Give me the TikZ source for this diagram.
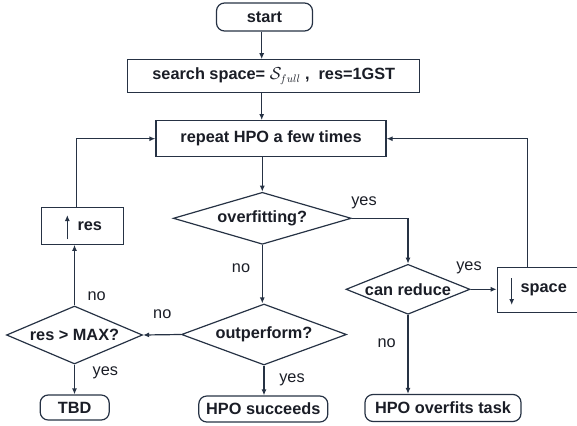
\documentclass[tikz,border=0pt]{standalone}
\usepackage{fontspec}
\setmainfont{Liberation Sans}
\usetikzlibrary{shapes.geometric,arrows.meta,calc}
\definecolor{ln}{HTML}{263244}
\definecolor{tx}{HTML}{1A1D26}
\begin{document}
\begin{tikzpicture}[x=1pt,y=-1pt,
  every node/.style={font=\fontsize{16.3}{19}\selectfont, text=tx},
  base/.style={draw=ln, line width=1.2pt, inner sep=0pt, font=\fontsize{16.3}{19}\selectfont\bfseries},
  box/.style={base, rectangle},
  term/.style={base, rectangle, rounded corners=8pt},
  dec/.style={base, diamond},
  lbl/.style={inner sep=0pt},
  conn/.style={draw=ln, line width=1.2pt},
  arr/.style={conn, -{Latex[length=6pt,width=5pt]}},
]
\useasboundingbox (0,0) rectangle (577,425);

% nodes
\node[term, minimum width=96pt, minimum height=28pt] (start) at (264.5,17) {start};
\node[box, minimum width=292pt, minimum height=33pt] (search) at (273.8,76.3) {search space= $\mathcal{S}_{full}$ ,\ \ res=1GST};
\node[box, minimum width=230pt, minimum height=36pt] (repeat) at (271,138.7) {repeat HPO a few times};
\node[dec, minimum width=178pt, minimum height=52pt, shape aspect=3.4] (of) at (262.3,218.3) {overfitting?};
\node[dec, minimum width=124pt, minimum height=50pt, shape aspect=2.5] (cr) at (408,289.3) {can reduce};
\node[box, anchor=west, minimum height=45pt] (space) at (496.7,290.2) {\hspace*{23.3pt}space\hspace*{60pt}};
\node[dec, minimum width=165pt, minimum height=61pt, shape aspect=2.7] (op) at (264,334.5) {outperform?};
\node[dec, minimum width=136pt, minimum height=58pt, shape aspect=2.35] (rm) at (74.5,335) {res > MAX?};
\node[box, minimum width=82pt, minimum height=37pt] (res) at (82.8,225.7) {\hspace*{14pt}res};
\node[term, minimum width=69pt, minimum height=25pt] (tbd) at (74.7,407.5) {TBD};
\node[term, minimum width=129pt, minimum height=26pt] (hs) at (263.3,409) {HPO succeeds};
\node[term, minimum width=156pt, minimum height=27pt] (hot) at (443,408) {HPO overfits task};

% helper x positions
\coordinate (vx) at (261.7,0);
\coordinate (sx) at (527.3,0);
\coordinate (rx) at (76.7,0);

% connectors
\draw[arr] (start.south -| vx) -- (search.north -| vx);
\draw[arr] (search.south -| vx) -- (repeat.north -| vx);
\draw[arr] (repeat.south -| of.north) -- (of.north);
\draw[arr] (of.east) -| (cr.north);
\draw[arr] (cr.east) -- (cr.east -| space.west);
\draw[arr] (space.north -| sx) |- (repeat.east);
\draw[arr] (cr.south) -- (cr.south |- hot.north);
\draw[arr] (of.south) -- (of.south |- op.north);
\draw[arr] (op.south) -- (op.south |- hs.north);
\draw[arr] (op.west) -- (rm.east);
\draw[arr] (rm.north) -- (rm.north |- res.south);
\draw[arr] (res.north -| rx) |- (repeat.west);
\draw[arr] (rm.south) -- (rm.south |- tbd.north);

% arrows inside boxes
\draw[arr] ($(res.center)+(-15.5,13.6)$) -- ($(res.center)+(-15.5,-10.7)$);
\draw[arr] ($(space.west)+(15,-12.2)$) -- ($(space.west)+(15,14.8)$);

% labels
\node[lbl] (l1) at (364,203) {yes};
\node[lbl] (l2) at (469,268) {yes};
\node[lbl] (l3) at (241,268) {no};
\node[lbl] (l4) at (96.7,296) {no};
\node[lbl] (l5) at (162.3,314) {no};
\node[lbl] (l6) at (105.3,373.3) {yes};
\node[lbl] (l7) at (292,380) {yes};
\node[lbl] (l8) at (386.7,342.7) {no};
\end{tikzpicture}
\end{document}
